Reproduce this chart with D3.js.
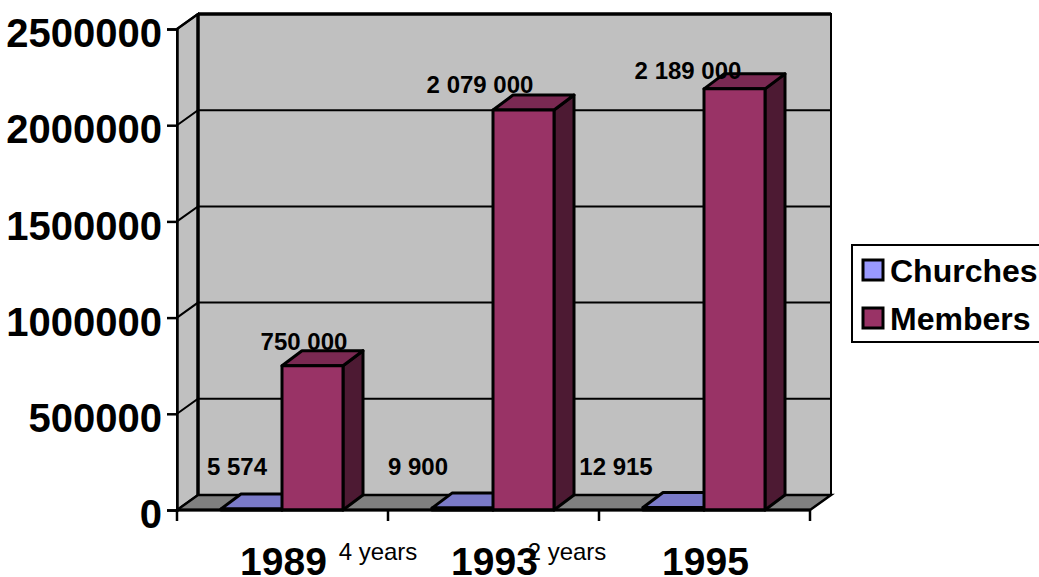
<!DOCTYPE html>
<meta charset="utf-8">
<style>
body { margin: 0; background: #fff; }
text { font-family: "Liberation Sans", Arial, sans-serif; fill: #000; }
</style>
<body>
<script src="https://d3js.org/d3.v7.min.js"></script>
<script>
// chart data
var years = ["1989", "1993", "1995"];
var seriesNames = ["Churches", "Members"];
var churches = [5574, 9900, 12915];
var members = [750000, 2079000, 2189000];
var churchLabels = ["5 574", "9 900", "12 915"];
var memberLabels = ["750 000", "2 079 000", "2 189 000"];
var yTicks = [0, 500000, 1000000, 1500000, 2000000, 2500000];
var gapLabels = ["4 years", "2 years"];

var colors = {Churches: "#9999ff", Members: "#993366"};
var topColors = {Churches: "#7a7ac8", Members: "#7a2952"};
var sideColors = {Churches: "#4d4d80", Members: "#4d1a33"};

var depthX = 21, depthY = 15;
var plotLeft = 177, plotRight = 810, plotBottom = 510, plotTop = 29;

var svg = d3.select("body").append("svg")
  .attr("width", 1039).attr("height", 577).style("display", "block");

var y = d3.scaleLinear().domain([0, 2500000]).range([plotBottom, plotTop]);
var x0 = d3.scaleBand().domain(years).range([plotLeft, plotRight]);
var x1 = d3.scaleBand().domain(seriesNames).range([44, 166]);

function pts(a) { return a.map(function(p) { return p.join(","); }).join(" "); }

// walls and floor
svg.append("polygon").attr("fill", "#c0c0c0").attr("stroke", "#000").attr("stroke-width", 2)
  .attr("points", pts([[plotLeft + depthX, plotBottom - depthY], [plotRight + depthX, plotBottom - depthY], [plotRight + depthX, plotTop - depthY], [plotLeft + depthX, plotTop - depthY]]));
svg.append("polygon").attr("fill", "#c0c0c0").attr("stroke", "#000").attr("stroke-width", 2)
  .attr("points", pts([[plotLeft, plotBottom], [plotLeft + depthX, plotBottom - depthY], [plotLeft + depthX, plotTop - depthY], [plotLeft, plotTop]]));
svg.append("line").attr("stroke", "#000").attr("stroke-width", 3.5)
  .attr("x1", plotLeft + depthX).attr("x2", plotLeft + depthX).attr("y1", plotBottom - depthY).attr("y2", plotTop - depthY);
svg.append("line").attr("stroke", "#000").attr("stroke-width", 3.5)
  .attr("x1", plotLeft + depthX).attr("x2", plotRight + depthX).attr("y1", plotTop - depthY).attr("y2", plotTop - depthY);
svg.append("polygon").attr("fill", "#808080").attr("stroke", "#000").attr("stroke-width", 2.5)
  .attr("points", pts([[plotLeft, plotBottom], [plotRight, plotBottom], [plotRight + depthX, plotBottom - depthY], [plotLeft + depthX, plotBottom - depthY]]));

// gridlines on the back wall and side wall
yTicks.slice(1, -1).forEach(function(t) {
  svg.append("polyline").attr("fill", "none").attr("stroke", "#000").attr("stroke-width", 2)
    .attr("points", pts([[plotLeft, y(t)], [plotLeft + depthX, y(t) - depthY], [plotRight + depthX, y(t) - depthY]]));
});
svg.append("line").attr("stroke", "#000").attr("stroke-width", 2.5)
  .attr("x1", plotLeft).attr("x2", plotLeft + depthX).attr("y1", plotTop).attr("y2", plotTop - depthY);

// bars
function drawBars(name, values) {
  values.forEach(function(v, i) {
    var bx = x0(years[i]) + x1(name), w = x1.bandwidth(), by = y(v), base = y(0);
    var g = svg.append("g").attr("stroke", "#000").attr("stroke-width", 3).attr("stroke-linejoin", "round");
    g.append("polygon").attr("fill", sideColors[name])
      .attr("points", pts([[bx + w, by], [bx + w + depthX - 1, by - depthY], [bx + w + depthX - 1, base - depthY], [bx + w, base]]));
    g.append("polygon").attr("fill", topColors[name])
      .attr("points", pts([[bx, by], [bx + depthX - 1, by - depthY], [bx + w + depthX - 1, by - depthY], [bx + w, by]]));
    g.append("rect").attr("fill", colors[name]).attr("x", bx).attr("y", by).attr("width", w).attr("height", base - by);
  });
}
drawBars("Churches", churches);
drawBars("Members", members);

// y axis, drawn with the library then restyled
var yAxis = svg.append("g").attr("transform", "translate(" + plotLeft + ",0)")
  .call(d3.axisLeft(y).tickValues(yTicks).tickFormat(d3.format("d")).tickSize(10).tickPadding(5));
yAxis.select(".domain").attr("stroke-width", 2.5);
yAxis.selectAll("line").attr("stroke-width", 2.5);
yAxis.selectAll("text").attr("font-size", 40).attr("font-weight", "bold").attr("font-family", "Liberation Sans")
  .attr("fill", "#000").attr("dy", "0.44em");

// x axis
var tickXs = years.map(function(d) { return x0(d); }).concat([plotRight]);
svg.selectAll(".xtick").data(tickXs).enter().append("line").attr("class", "xtick")
  .attr("x1", function(d) { return d; }).attr("x2", function(d) { return d; })
  .attr("y1", plotBottom).attr("y2", plotBottom + 11).attr("stroke", "#000").attr("stroke-width", 2.5);
svg.append("line").attr("x1", plotLeft).attr("x2", plotRight).attr("y1", plotBottom).attr("y2", plotBottom)
  .attr("stroke", "#000").attr("stroke-width", 3);

svg.selectAll(".year").data(years).enter().append("text").attr("class", "year")
  .attr("x", function(d) { return x0(d) + x0.bandwidth() / 2 + 1; }).attr("y", 575)
  .attr("text-anchor", "middle").attr("font-size", 39).attr("font-weight", "bold")
  .text(function(d) { return d; });

// data labels, nudged by hand like in the original
var churchNudge = [60, 30, 17];
var memberNudge = [22, -13, -16];
var memberRise = [16, 17, 10];
svg.selectAll(".clabel").data(churchLabels).enter().append("text").attr("class", "clabel")
  .attr("x", function(d, i) { return x0(years[i]) + churchNudge[i]; }).attr("y", y(0) - 35)
  .attr("text-anchor", "middle").attr("font-size", 24).attr("font-weight", "bold")
  .text(function(d) { return d; });
svg.selectAll(".mlabel").data(memberLabels).enter().append("text").attr("class", "mlabel")
  .attr("x", function(d, i) { return x0(years[i]) + x1("Members") + memberNudge[i]; })
  .attr("y", function(d, i) { return y(members[i]) - memberRise[i]; })
  .attr("text-anchor", "middle").attr("font-size", 24).attr("font-weight", "bold")
  .text(function(d) { return d; });

// gap notes between the years
svg.selectAll(".gap").data(gapLabels).enter().append("text").attr("class", "gap")
  .attr("x", function(d, i) { return x0(years[i + 1]) - 10 - i * 22; }).attr("y", 560)
  .attr("text-anchor", "middle").attr("font-size", 24)
  .text(function(d) { return d; });

// legend
var legend = svg.append("g");
legend.append("rect").attr("x", 852).attr("y", 245).attr("width", 190).attr("height", 97)
  .attr("fill", "#fff").attr("stroke", "#000").attr("stroke-width", 2);
seriesNames.forEach(function(n, i) {
  var ly = 260 + i * 48;
  legend.append("rect").attr("x", 863).attr("y", ly).attr("width", 20).attr("height", 20)
    .attr("fill", colors[n]).attr("stroke", "#000").attr("stroke-width", 3);
  legend.append("text").attr("x", 890).attr("y", ly + 22).attr("font-size", 32).attr("font-weight", "bold").text(n);
});
</script>
</body>
